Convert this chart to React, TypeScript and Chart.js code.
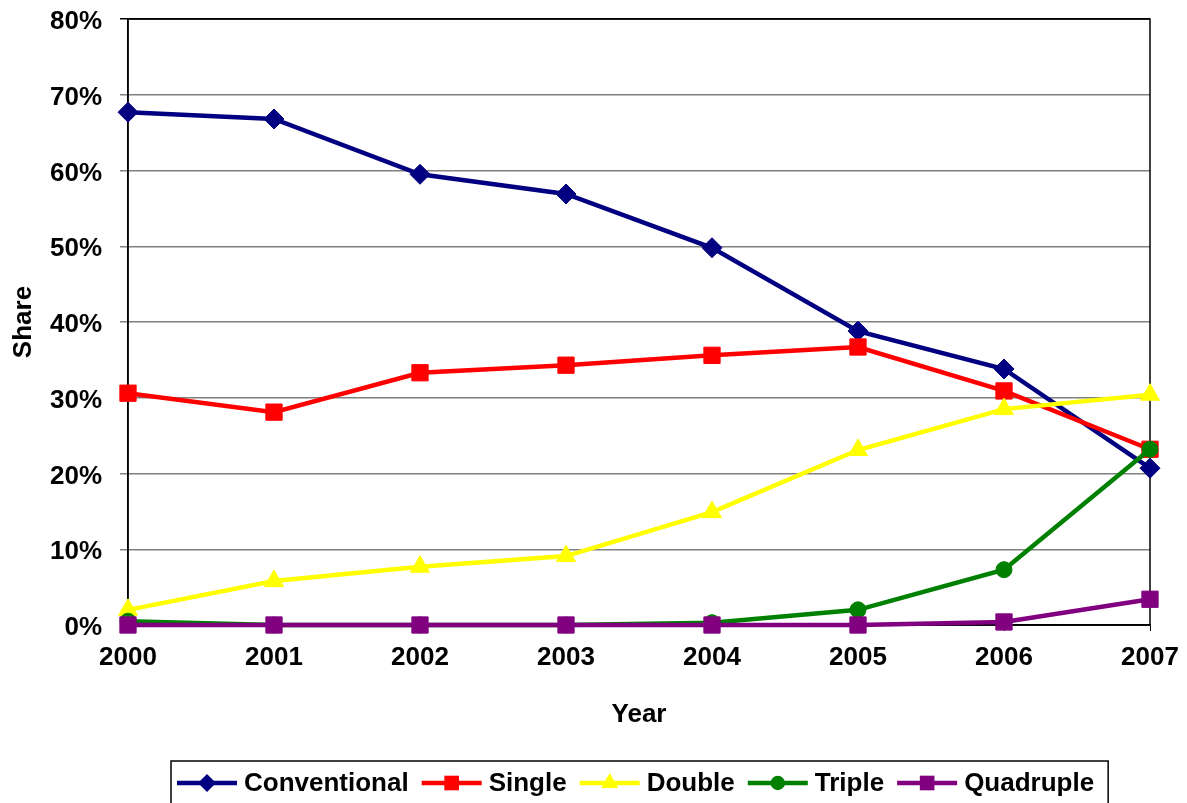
import React, { useEffect, useRef } from "react";
import { Chart, registerables } from "chart.js";

Chart.register(...registerables);

const years = ["2000", "2001", "2002", "2003", "2004", "2005", "2006", "2007"];
const conventional = [67.7, 66.8, 59.5, 56.9, 49.8, 38.8, 33.8, 20.7];
const single = [30.6, 28.1, 33.3, 34.3, 35.6, 36.7, 30.9, 23.2];
const double = [2.0, 5.8, 7.7, 9.1, 14.9, 23.1, 28.5, 30.4];
const triple = [0.5, 0.0, 0.0, 0.0, 0.3, 2.0, 7.3, 23.2];
const quadruple = [0.0, 0.0, 0.0, 0.0, 0.0, 0.0, 0.4, 3.4];
const yTicks = [0, 10, 20, 30, 40, 50, 60, 70, 80];

const FONT = "'Liberation Sans', Arial, sans-serif";

const seriesDefs = [
  { label: "Conventional", data: conventional, color: "#000080", style: "rectRot", radius: 10 },
  { label: "Single", data: single, color: "#FF0000", style: "rect", radius: 11.5 },
  { label: "Double", data: double, color: "#FFFF00", style: "triangle", radius: 11 },
  { label: "Triple", data: triple, color: "#008000", style: "circle", radius: 8 },
  { label: "Quadruple", data: quadruple, color: "#800080", style: "rect", radius: 11.5 },
];

function drawMarker(ctx: CanvasRenderingContext2D, style: string, r: number, x: number, y: number) {
  ctx.beginPath();
  if (style === "rectRot") {
    ctx.moveTo(x, y - r);
    ctx.lineTo(x + r, y);
    ctx.lineTo(x, y + r);
    ctx.lineTo(x - r, y);
    ctx.closePath();
  } else if (style === "rect") {
    const s = Math.SQRT1_2 * r;
    ctx.rect(x - s, y - s, 2 * s, 2 * s);
  } else if (style === "triangle") {
    const a = (2 * Math.PI) / 3;
    ctx.moveTo(x, y - r);
    ctx.lineTo(x + Math.sin(a) * r, y - Math.cos(a) * r);
    ctx.lineTo(x + Math.sin(2 * a) * r, y - Math.cos(2 * a) * r);
    ctx.closePath();
  } else {
    ctx.arc(x, y, r, 0, Math.PI * 2);
  }
  ctx.fill();
}

const borderPlugin = {
  id: "plotBorder",
  beforeDatasetsDraw(chart: any) {
    const { ctx, chartArea } = chart;
    ctx.save();
    ctx.strokeStyle = "#000000";
    ctx.lineWidth = 1.5;
    ctx.strokeRect(chartArea.left, chartArea.top, chartArea.right - chartArea.left, chartArea.bottom - chartArea.top);
    ctx.restore();
  },
};

const legendPlugin = {
  id: "customLegend",
  afterDraw(chart: any) {
    const { ctx } = chart;
    ctx.save();
    ctx.font = `bold 26px ${FONT}`;
    const boxLeft = 171;
    const boxTop = 761;
    const cy = 783;
    const lineLen = 60;
    let x = boxLeft + 6;
    seriesDefs.forEach((s, i) => {
      ctx.strokeStyle = s.color;
      ctx.lineWidth = 4.5;
      ctx.beginPath();
      ctx.moveTo(x, cy);
      ctx.lineTo(x + lineLen, cy);
      ctx.stroke();
      ctx.fillStyle = s.color;
      drawMarker(ctx, s.style, s.radius * 0.9, x + lineLen / 2, cy);
      x += lineLen + 7;
      ctx.fillStyle = "#000000";
      ctx.textBaseline = "middle";
      ctx.textAlign = "left";
      ctx.fillText(s.label, x, cy + 1);
      x += ctx.measureText(s.label).width + (i < seriesDefs.length - 1 ? 13 : 14);
    });
    ctx.strokeStyle = "#000000";
    ctx.lineWidth = 1.5;
    ctx.strokeRect(boxLeft, boxTop, x - boxLeft, 60);
    ctx.restore();
  },
};

export default function App() {
  const ref = useRef<HTMLCanvasElement | null>(null);
  useEffect(() => {
    if (!ref.current) return;
    const chart = new Chart(ref.current, {
      type: "line",
      data: {
        labels: years,
        datasets: seriesDefs.map((s, i) => ({
          label: s.label,
          data: s.data,
          borderColor: s.color,
          backgroundColor: s.color,
          pointBackgroundColor: s.color,
          pointBorderColor: s.color,
          pointBorderWidth: 1,
          pointStyle: s.style as any,
          pointRadius: s.radius,
          pointHoverRadius: s.radius,
          borderWidth: 4.5,
          tension: 0,
          fill: false,
          clip: false as any,
          order: seriesDefs.length - i,
        })),
      },
      options: {
        responsive: false,
        animation: false,
        devicePixelRatio: 1,
        layout: { padding: { left: 0, top: 19, right: 37, bottom: 58 } },
        plugins: {
          legend: { display: false },
          tooltip: { enabled: false },
        },
        scales: {
          x: {
            type: "category",
            offset: false,
            afterFit: (scale: any) => {
              scale.height = 120;
              scale.paddingLeft = 0;
              scale.paddingRight = 0;
            },
            grid: {
              drawOnChartArea: false,
              drawTicks: true,
              tickLength: 6,
              color: "#000000",
            },
            border: { display: true, color: "#000000", width: 1.5 },
            ticks: {
              color: "#000000",
              font: { family: FONT, size: 26, weight: "bold" },
              padding: 11,
              maxRotation: 0,
              autoSkip: false,
            },
            title: {
              display: true,
              text: "Year",
              color: "#000000",
              font: { family: FONT, size: 26, weight: "bold" },
              padding: { top: 0, bottom: 15 },
            },
          },
          y: {
            min: 0,
            max: 80,
            afterFit: (scale: any) => {
              scale.width = 128;
              scale.paddingTop = 0;
              scale.paddingBottom = 0;
            },
            afterBuildTicks: (scale: any) => {
              scale.ticks = yTicks.map((v) => ({ value: v }));
            },
            grid: {
              color: (c: any) => (c.tick && (c.tick.value === 0 || c.tick.value === 80) ? "#000000" : "#808080"),
              lineWidth: 1.5,
              tickLength: 8,
              drawTicks: true,
            },
            border: { display: true, color: "#000000", width: 1.5 },
            ticks: {
              color: "#000000",
              font: { family: FONT, size: 26, weight: "bold" },
              padding: 18,
              labelOffset: 3,
              callback: (v: any) => `${v}%`,
            },
            title: {
              display: true,
              text: "Share",
              color: "#000000",
              font: { family: FONT, size: 26, weight: "bold" },
              padding: { top: 8, bottom: 0 },
            },
          },
        },
      },
      plugins: [borderPlugin, legendPlugin],
    });
    return () => chart.destroy();
  }, []);
  return (
    <div style={{ position: "absolute", left: 0, top: 0, width: 1187, height: 803, background: "#ffffff" }}>
      <canvas ref={ref} width={1187} height={803} style={{ display: "block" }} />
    </div>
  );
}
